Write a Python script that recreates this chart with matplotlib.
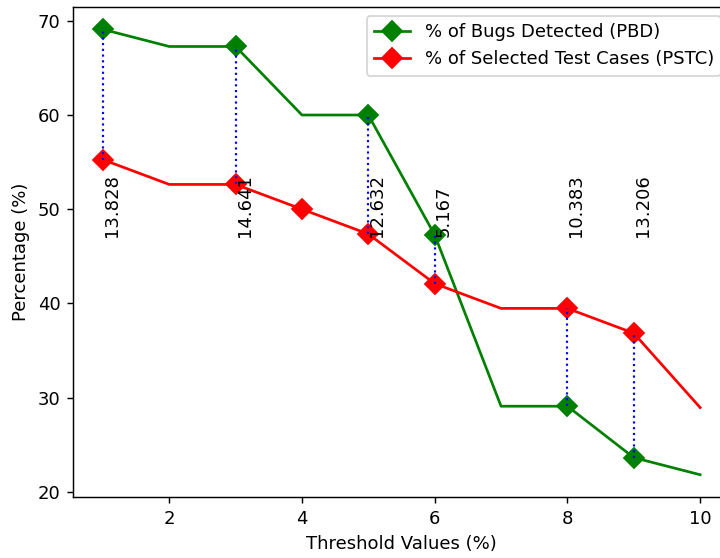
import numpy as np
import matplotlib
matplotlib.use("Agg")
import matplotlib.pyplot as plt

# threshold values (%)
thresholds = [1, 2, 3, 4, 5, 6, 7, 8, 9, 10]
# % of bugs detected
pbd = [69.091, 67.273, 67.273, 60.0, 60.0, 47.273, 29.091, 29.091, 23.636, 21.818]
# % of selected test cases
pstc = [55.263, 52.632, 52.632, 50.0, 47.368, 42.105, 39.474, 39.474, 36.842, 28.947]

# points that get markers
pbd_marks = [0, 2, 4, 5, 7, 8]
pstc_marks = [0, 2, 3, 4, 5, 7, 8]
# points where the gap is annotated, and the gap labels as printed
gap_idx = [0, 2, 4, 5, 7, 8]
gap_labels = ['13.828', '14.641', '12.632', '5.167', '10.383', '13.206']
label_y = 47

fig = plt.figure(figsize=(720 / 130, 558 / 130), dpi=130)
ax = fig.add_axes([0.1014, 0.1093, 0.9125, 0.878])

ax.plot(thresholds, pbd, color='green', marker='D', markersize=8,
        markevery=pbd_marks, label='% of Bugs Detected (PBD)')
ax.plot(thresholds, pstc, color='red', marker='D', markersize=8,
        markevery=pstc_marks, label='% of Selected Test Cases (PSTC)')

for i, lab in zip(gap_idx, gap_labels):
    x = thresholds[i]
    lo, hi = min(pbd[i], pstc[i]), max(pbd[i], pstc[i])
    ax.vlines(x, lo, hi, colors='blue', linestyles=':', linewidth=1.2)
    ax.text(x, label_y, lab, rotation=90, ha='left', va='bottom', fontsize=10)

ax.set_xlabel('Threshold Values (%)')
ax.set_ylabel('Percentage (%)')
ax.legend(loc='upper right')

fig.savefig('out.png', dpi=130)
